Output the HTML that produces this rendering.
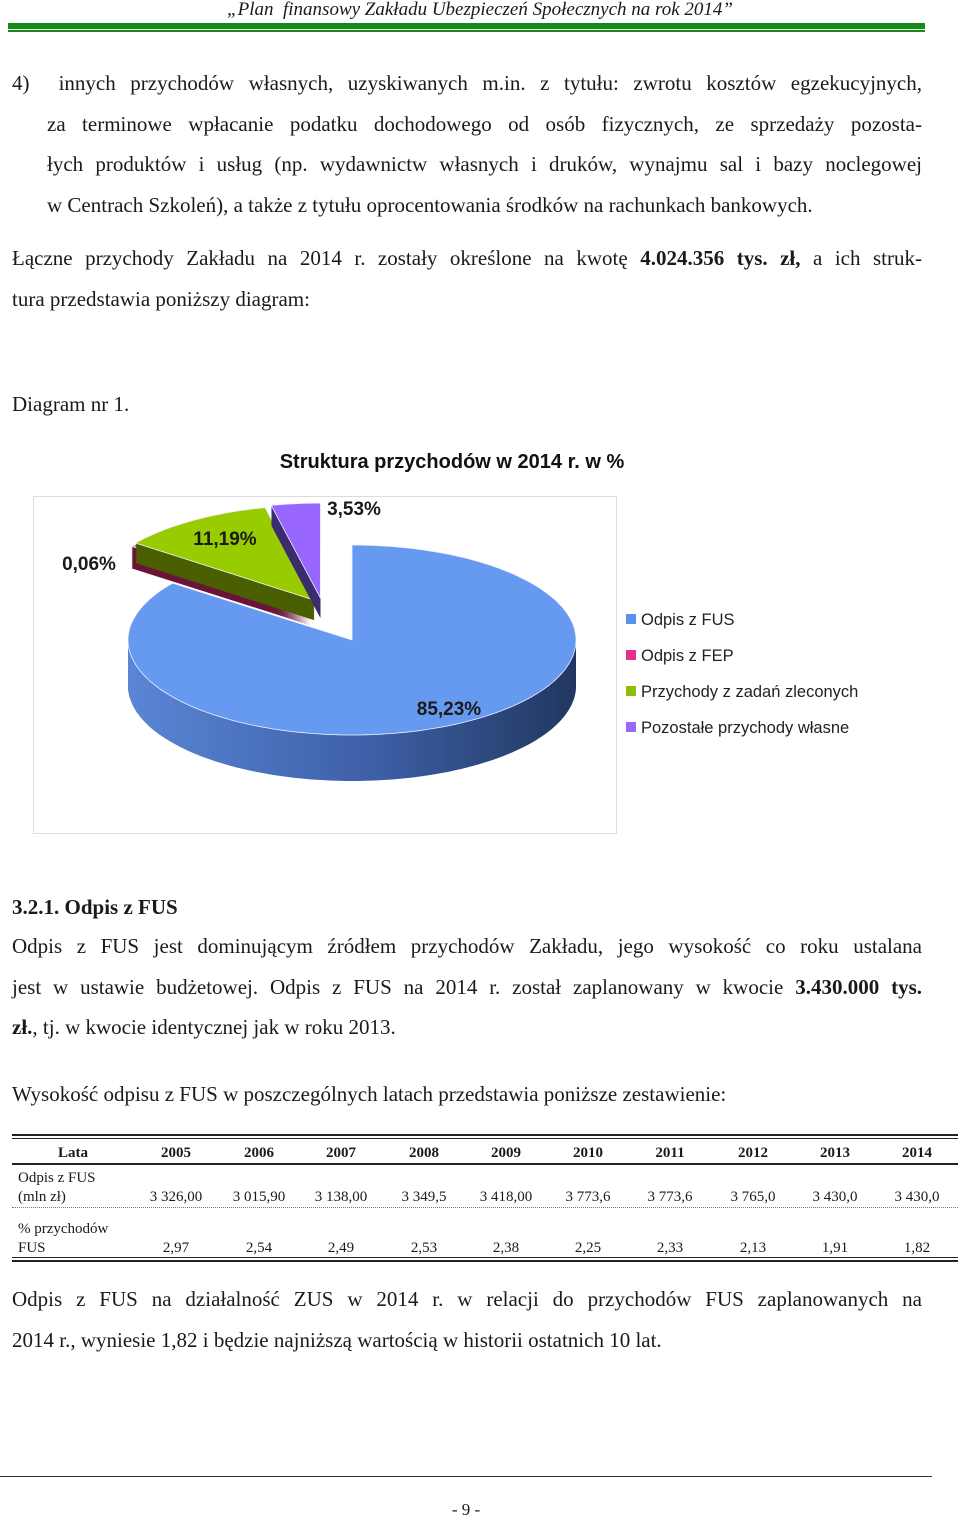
<!DOCTYPE html>
<html><head><meta charset="utf-8"><style>
body{margin:0;width:960px;height:1519px;background:#fff;position:relative;overflow:hidden;font-family:"Liberation Serif",serif;color:#1a1a1a}
.l{position:absolute;font-size:21px;white-space:nowrap;line-height:24px}
.j{text-align:justify;text-align-last:justify}
.t{position:absolute;font-family:"Liberation Serif",serif;font-size:15px;line-height:18px;white-space:nowrap}
.c{text-align:center;width:80px}
.h{font-weight:bold}
</style></head><body>
<div style="position:absolute;left:0;top:0;width:960px;text-align:center;font-style:italic;font-size:19px;top:-1px;font-family:'Liberation Serif',serif">„Plan&nbsp; finansowy Zakładu Ubezpieczeń Społecznych na rok 2014”</div>
<div style="position:absolute;left:8px;top:23px;width:917px;height:6px;background:#178a17"></div>
<div style="position:absolute;left:8px;top:30px;width:917px;height:2px;background:#178a17"></div>

<div class="l j" style="left:12px;top:71px;width:910px">4)&nbsp; innych przychodów własnych, uzyskiwanych m.in. z tytułu: zwrotu kosztów egzekucyjnych,</div>
<div class="l j" style="left:47px;top:112px;width:875px">za terminowe wpłacanie podatku dochodowego od osób fizycznych, ze sprzedaży pozosta-</div>
<div class="l j" style="left:47px;top:152px;width:875px">łych produktów i usług (np. wydawnictw własnych i druków, wynajmu sal i bazy noclegowej</div>
<div class="l" style="left:47px;top:193px">w Centrach Szkoleń), a także z tytułu oprocentowania środków na rachunkach bankowych.</div>
<div class="l j" style="left:12px;top:246px;width:910px">Łączne przychody Zakładu na 2014 r. zostały określone na kwotę <b>4.024.356 tys. zł,</b> a ich struk-</div>
<div class="l" style="left:12px;top:287px">tura przedstawia poniższy diagram:</div>
<div class="l" style="left:12px;top:392px">Diagram nr 1.</div>

<svg style="position:absolute;left:0;top:0" width="960" height="850" id="pie">
<defs>
<linearGradient id="bside" x1="0" x2="1" y1="0" y2="0"><stop offset="0" stop-color="#5a86d6"/><stop offset="0.55" stop-color="#3d5fa6"/><stop offset="1" stop-color="#223760"/></linearGradient>
</defs>
<rect x="33.5" y="496.5" width="583" height="337" fill="#fff" stroke="#dcdcdc"/>
<text x="452" y="468" text-anchor="middle" font-family="Liberation Sans, sans-serif" font-weight="bold" font-size="20" fill="#111">Struktura przychodów w 2014 r. w %</text>
</svg>

<div class="l h" style="left:12px;top:895px">3.2.1. Odpis z FUS</div>
<div class="l j" style="left:12px;top:934px;width:910px">Odpis z FUS jest dominującym źródłem przychodów Zakładu, jego wysokość co roku ustalana</div>
<div class="l j" style="left:12px;top:975px;width:910px">jest w ustawie budżetowej. Odpis z FUS na 2014 r. został zaplanowany w kwocie <b>3.430.000 tys.</b></div>
<div class="l" style="left:12px;top:1015px"><b>zł.</b>, tj. w kwocie identycznej jak w roku 2013.</div>
<div class="l" style="left:12px;top:1082px">Wysokość odpisu z FUS w poszczególnych latach przedstawia poniższe zestawienie:</div>

<div style="position:absolute;left:12px;top:1134px;width:946px;height:2px;background:#222"></div>
<div style="position:absolute;left:12px;top:1138px;width:946px;height:1px;background:#222"></div>
<div style="position:absolute;left:12px;top:1163px;width:946px;height:2px;background:#222"></div>
<div style="position:absolute;left:12px;top:1207px;width:946px;border-top:1px dotted #777"></div>
<div style="position:absolute;left:12px;top:1257px;width:946px;height:1px;background:#222"></div>
<div style="position:absolute;left:12px;top:1260px;width:946px;height:2px;background:#222"></div>
<div id="tbl"></div>

<div class="l j" style="left:12px;top:1287px;width:910px">Odpis z FUS na działalność ZUS w 2014 r. w relacji do przychodów FUS zaplanowanych na</div>
<div class="l" style="left:12px;top:1328px">2014 r., wyniesie 1,82 i będzie najniższą wartością w historii ostatnich 10 lat.</div>

<div style="position:absolute;left:0;top:1476px;width:932px;height:1px;background:#333"></div>
<div style="position:absolute;left:0;top:1500px;width:932px;text-align:center;font-size:17px">- 9 -</div>

<script>
const sliceLabels=["Odpis z FUS","Odpis z FEP","Przychody z zadań zleconych","Pozostałe przychody własne"];
const sliceValues=[85.23,0.06,11.19,3.53];
const valueLabels=["85,23%","0,06%","11,19%","3,53%"];
const years=["2005","2006","2007","2008","2009","2010","2011","2012","2013","2014"];
const odpisValues=["3 326,00","3 015,90","3 138,00","3 349,5","3 418,00","3 773,6","3 773,6","3 765,0","3 430,0","3 430,0"];
const pctValues=["2,97","2,54","2,49","2,53","2,38","2,25","2,33","2,13","1,91","1,82"];

const NS="http://www.w3.org/2000/svg";
const svg=document.getElementById('pie');
const cx=352,cy=640,rx=224,ry=95,depth=46,explode=14;
const topCol=["#6699f0","#b03060","#99cc00","#9966ff"];
const sideCol=["url(#bside)","#6a1538","#4a5f00","#3a2d6e"];
const legCol=["#5b8ff0","#e62f8a","#8cc000","#9966ff"];
const total=sliceValues.reduce((a,b)=>a+b,0);
function pt(a,ox,oy,dy){return [cx+ox+rx*Math.sin(a),cy+oy+dy-ry*Math.cos(a)];}
function wedge(a0,a1,ox,oy,dy){
  let d="M"+(cx+ox)+","+(cy+oy+dy);
  const n=Math.max(2,Math.ceil((a1-a0)/0.03));
  for(let i=0;i<=n;i++){const p=pt(a0+(a1-a0)*i/n,ox,oy,dy);d+=" L"+p[0].toFixed(1)+","+p[1].toFixed(1);}
  return d+" Z";
}
let acc=0;const slices=[];
sliceValues.forEach((v,i)=>{const a0=acc/total*2*Math.PI;acc+=v;const a1=acc/total*2*Math.PI;slices.push([a0,a1]);});
const order=[1,2,3,0];
order.forEach(i=>{
  let [a0,a1]=slices[i];
  if(i===1){a1=a0+0.05;}
  const mid=(a0+a1)/2;
  let ox=0,oy=0;
  if(i!==0){ox=-30+explode*Math.sin(mid);oy=-28-explode*Math.cos(mid);}
  const g=document.createElementNS(NS,'g');
  
  
  const dep=i===0?depth:(i===1?22:20);
  for(let k=dep;k>0;k-=1){
    const p=document.createElementNS(NS,'path');
    p.setAttribute('d',wedge(a0,a1,ox,oy,k));
    p.setAttribute('fill',sideCol[i]);
    g.appendChild(p);
  }
  const tp=document.createElementNS(NS,'path');
  tp.setAttribute('d',wedge(a0,i===1?a0+0.012:a1,ox,oy,0));
  tp.setAttribute('fill',topCol[i]);
  tp.setAttribute('stroke','#eef3ff');tp.setAttribute('stroke-width','0.8');
  g.appendChild(tp);
  svg.appendChild(g);
});
const labelPos=[[449,715],[89,570],[225,545],[354,515]];
valueLabels.forEach((t,i)=>{
  const tx=document.createElementNS(NS,'text');
  
  
  tx.setAttribute('x',labelPos[i][0]);tx.setAttribute('y',labelPos[i][1]);
  tx.setAttribute('text-anchor','middle');
  tx.setAttribute('font-family','Liberation Sans, sans-serif');
  tx.setAttribute('font-weight','bold');tx.setAttribute('font-size','19');
  tx.setAttribute('fill','#1a1a1a');
  tx.textContent=t;svg.appendChild(tx);
});
sliceLabels.forEach((t,i)=>{
  const y=619+i*36;
  const r=document.createElementNS(NS,'rect');
  
  
  r.setAttribute('x',626);r.setAttribute('y',y-5);r.setAttribute('width',10);r.setAttribute('height',10);
  r.setAttribute('fill',legCol[i]);svg.appendChild(r);
  const tx=document.createElementNS(NS,'text');
  
  
  tx.setAttribute('x',641);tx.setAttribute('y',y+6);
  tx.setAttribute('font-family','Liberation Sans, sans-serif');tx.setAttribute('font-size','16.5');
  tx.setAttribute('fill','#222');tx.textContent=t;svg.appendChild(tx);
});

const tbl=document.getElementById('tbl');
const colX=[176,259,341,424,506,588,670,753,835,917];
function cell(txt,x,y,cls,name){
  const d=document.createElement('div');
  d.className='t '+cls;
  
  
  d.style.left=x+'px';d.style.top=y+'px';d.textContent=txt;tbl.appendChild(d);
}
cell('Lata',33,1144,'c h','table-header-lata');
years.forEach((y,i)=>cell(y,colX[i]-40,1144,'c h','table-header-year'));
cell('Odpis z FUS',18,1169,'','row-label-odpis');
cell('(mln zł)',18,1188,'','row-label-odpis-unit');
odpisValues.forEach((v,i)=>cell(v,colX[i]-40,1188,'c','odpis-value'));
cell('% przychodów',18,1220,'','row-label-pct');
cell('FUS',18,1239,'','row-label-pct-2');
pctValues.forEach((v,i)=>cell(v,colX[i]-40,1239,'c','pct-value'));
</script>
</body></html>
